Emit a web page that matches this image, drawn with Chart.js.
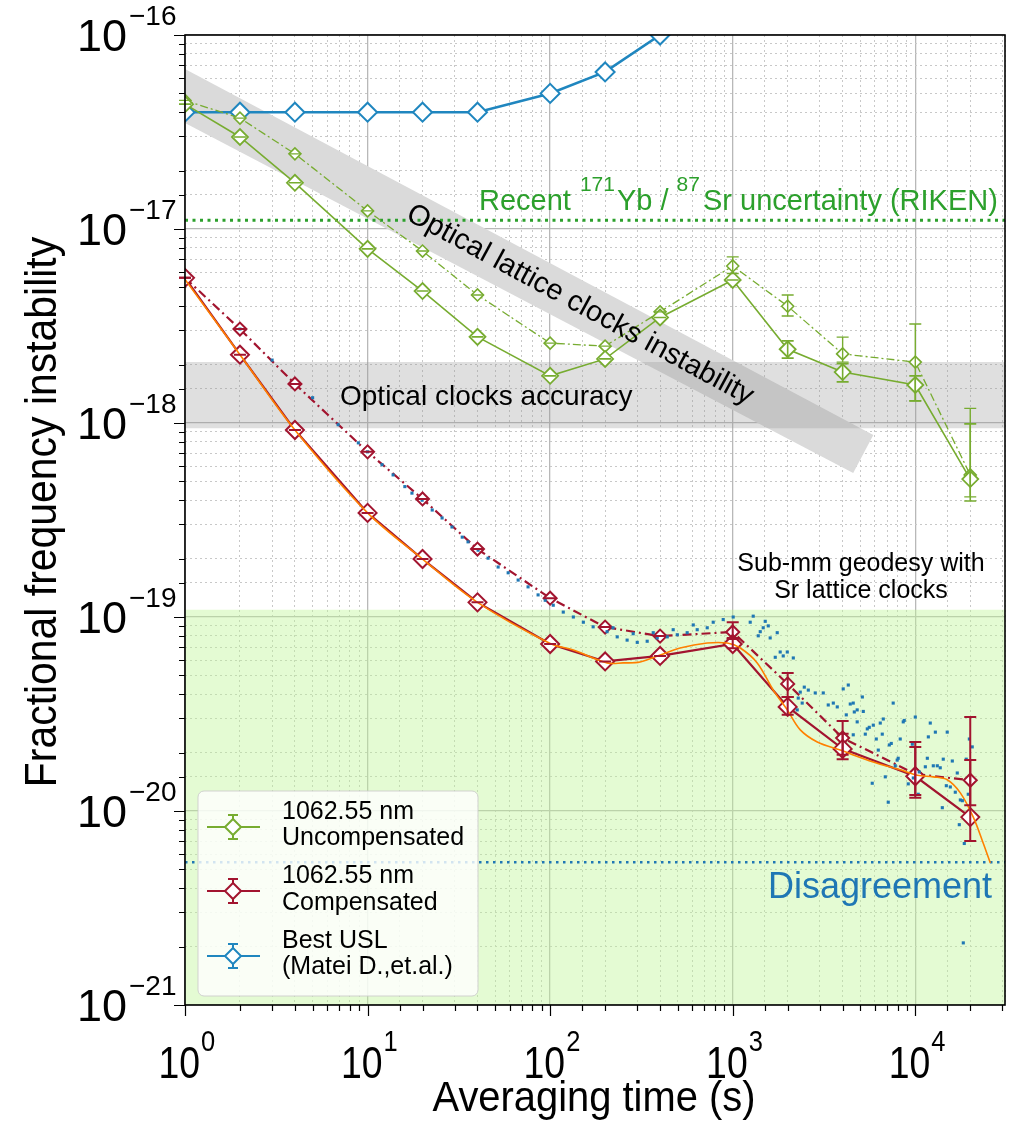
<!DOCTYPE html>
<html>
<head>
<meta charset="utf-8">
<script src="https://cdn.jsdelivr.net/npm/chart.js@4.4.1/dist/chart.umd.min.js"></script>
<style>
  html, body { margin: 0; padding: 0; background: #fff; }
  canvas { display: block; }
</style>
</head>
<body>
<canvas id="adev" width="1017" height="1121"></canvas>
<script>
// averaging times of the measured points
const taus = [1, 2, 4, 10, 20, 40, 100, 200, 400, 1000, 2000, 4000, 10000, 20000];

// 1062.55 nm uncompensated (solid and dash-dot)
const uncompA = [4.4e-17, 2.98e-17, 1.73e-17, 7.9e-18, 4.79e-18, 2.78e-18, 1.75e-18, 2.14e-18, 3.5e-18, 5.46e-18, 2.4e-18, 1.83e-18, 1.57e-18, 5.14e-19];
const uncompAHi = [null, null, null, null, null, null, null, null, null, null, 2.65e-18, 2.02e-18, 1.75e-18, 9.9e-19];
const uncompALo = [null, null, null, null, null, null, null, null, null, null, 2.16e-18, 1.63e-18, 1.3e-18, 3.96e-19];
const uncompB = [4.6e-17, 3.73e-17, 2.44e-17, 1.24e-17, 7.7e-18, 4.57e-18, 2.58e-18, 2.49e-18, 3.74e-18, 6.45e-18, 4.0e-18, 2.27e-18, 2.06e-18, 5.4e-19];
const uncompBHi = [null, null, null, null, null, null, null, null, null, 7.18e-18, 4.57e-18, 2.77e-18, 3.24e-18, 1.19e-18];
const uncompBLo = [null, null, null, null, null, null, null, null, null, 5.9e-18, 3.56e-18, 2.06e-18, 1.3e-18, 4.16e-19];

// 1062.55 nm compensated (solid and dash-dot)
const compA = [5.6e-18, 2.25e-18, 9.2e-19, 3.44e-19, 1.99e-19, 1.19e-19, 7.26e-20, 5.9e-20, 6.3e-20, 7.26e-20, 3.44e-20, 2.09e-20, 1.51e-20, 9.3e-21];
const compAHi = [null, null, null, null, null, null, null, null, null, 7.7e-20, 3.87e-20, 2.5e-20, 2.14e-20, 1.83e-20];
const compALo = [null, null, null, null, null, null, null, null, null, 6.9e-20, 3.13e-20, 1.85e-20, 1.17e-20, 7.0e-21];
const compB = [5.6e-18, 3.05e-18, 1.59e-18, 7.1e-19, 4.06e-19, 2.24e-19, 1.25e-19, 8.87e-20, 7.97e-20, 8.37e-20, 4.52e-20, 2.38e-20, 1.55e-20, 1.44e-20];
const compBHi = [null, null, null, null, null, null, null, null, null, 9.4e-20, 5.15e-20, 2.91e-20, 2.27e-20, 3.05e-20];
const compBLo = [null, null, null, null, null, null, null, null, null, 7.8e-20, 3.87e-20, 1.95e-20, 1.21e-20, 1.07e-20];

// best USL (Matei D. et al.)
const uslTaus = [1, 2, 4, 10, 20, 40, 100, 200, 400, 1000];
const uslValues = [4e-17, 4e-17, 4e-17, 4e-17, 4e-17, 4e-17, 5.0e-17, 6.45e-17, 1.0e-16, 2.1e-16];

// raw USL-compensated scatter
const scatterTaus = [
  2, 3.0, 5.0, 6.9, 8.9, 10, 12.0, 13.8, 16.0, 17.5, 19.9, 22.6, 25.6, 29.0, 33.0, 35.5, 40.3, 45.7, 51.9, 58.9,
  66.8, 75.7, 85.9, 94.0, 104, 118, 134, 152, 172, 205, 233, 264, 300, 340, 386, 438, 497, 563, 639, 725,
  221, 285, 367, 472, 608, 782, 887, 1006,
  1295, 1247, 1507, 1566, 1415, 1380, 1469, 1604, 1753, 1820, 1710, 1891, 1990, 2147, 2344, 2466, 2594, 2832, 3133, 3336,
  3556, 3738, 4029, 4295, 4573, 4806, 2285, 2402, 2256, 4404, 4634, 5129, 5190, 4188, 4806, 4573, 5323, 5458, 5597, 5888,
  6113, 6429, 6594, 6679, 6270, 7208, 7386, 7568, 7959, 8061, 8270, 8590, 8700, 6850, 7770, 5810, 7110, 9150, 9630, 10000,
  9750, 10380, 10510, 11350, 11640, 11790, 12080, 12550, 12880, 13200, 13700, 14060, 14230, 14790, 14960, 15550, 15950, 16560, 16980, 17650,
  18110, 19010, 19500, 19770, 20510, 17420, 18550, 18320
];
const scatterValues = [
  3.05e-18, 2.11e-18, 1.35e-18, 9.8e-19, 7.9e-19, 7.1e-19, 6.1e-19, 5.4e-19, 4.7e-19, 4.35e-19, 4.0e-19, 3.56e-19, 3.24e-19, 2.91e-19, 2.58e-19, 2.44e-19, 2.21e-19, 2.01e-19, 1.81e-19, 1.69e-19,
  1.55e-19, 1.43e-19, 1.30e-19, 1.22e-19, 1.15e-19, 1.06e-19, 1.0e-19, 9.4e-20, 8.9e-20, 8.4e-20, 7.9e-20, 7.6e-20, 7.4e-20, 7.5e-20, 7.8e-20, 7.9e-20, 8.1e-20, 8.3e-20, 8.6e-20, 8.8e-20,
  8.8e-20, 8.2e-20, 8.3e-20, 8.6e-20, 9.1e-20, 9.4e-20, 9.7e-20, 1.0e-19,
  1.01e-19, 9.4e-20, 9.5e-20, 9.0e-20, 8.4e-20, 8.0e-20, 8.8e-20, 7.8e-20, 8.3e-20, 6.6e-20, 6.2e-20, 6.3e-20, 6.6e-20, 6.15e-20, 4.1e-20, 4.35e-20, 4.2e-20, 4.06e-20, 4.06e-20, 3.52e-20,
  3.6e-20, 3.44e-20, 4.26e-20, 4.46e-20, 3.6e-20, 3.32e-20, 3.82e-20, 3.6e-20, 3.32e-20, 3.56e-20, 3.24e-20, 3.87e-20, 3.26e-20, 3.13e-20, 2.88e-20, 2.47e-20, 2.49e-20, 2.65e-20, 2.70e-20, 2.77e-20,
  2.35e-20, 2.84e-20, 2.49e-20, 2.98e-20, 2.06e-20, 2.19e-20, 2.23e-20, 3.6e-20, 1.83e-20, 1.87e-20, 2.35e-20, 2.88e-20, 2.93e-20, 1.50e-20, 1.71e-20, 1.39e-20, 1.11e-20, 1.38e-20, 2.21e-20, 3.05e-20,
  1.48e-20, 1.22e-20, 1.59e-20, 1.69e-20, 1.87e-20, 2.41e-20, 2.84e-20, 1.71e-20, 2.55e-20, 1.71e-20, 1.67e-20, 1.04e-20, 1.85e-20, 1.35e-20, 2.55e-20, 1.33e-20, 1.81e-20, 1.25e-20, 1.57e-20, 1.14e-20,
  1.13e-20, 1.85e-20, 1.22e-20, 2.35e-20, 2.14e-20, 8.5e-21, 6.8e-21, 2.09e-21
];

// smooth fit (orange)
const fitTaus = [1, 2, 4, 10, 20, 40, 100, 134, 205, 251, 311, 401, 515, 725, 933, 1100, 1362, 1667, 1990, 2344, 2904, 3882, 5888, 8270, 10260, 12550, 14960, 17650, 20780, 23590, 25750];
const fitValues = [5.5e-18, 2.25e-18, 9.2e-19, 3.44e-19, 1.99e-19, 1.19e-19, 7.3e-20, 6.76e-20, 5.8e-20, 5.8e-20, 5.86e-20, 6.37e-20, 6.92e-20, 7.34e-20, 7.34e-20, 6.92e-20, 5.8e-20, 4.2e-20, 3.32e-20, 2.62e-20, 2.27e-20, 2.06e-20, 1.79e-20, 1.63e-20, 1.53e-20, 1.50e-20, 1.45e-20, 1.24e-20, 9.3e-21, 6.8e-21, 5.4e-21];

// reference levels and bands
const xRange = [1, 31000];
const yRange = [1e-21, 1e-16];
const rikenLevel = 1.11e-17;
const disagreementLevel = 5.45e-21;
const geodesyLevel = 1.09e-19;
const accuracyBand = [9.4e-19, 2.06e-18];
const latticeBandTaus = [1, 5890, 4570, 1];
const latticeBandValues = [6.68e-17, 8.67e-19, 5.52e-19, 3.52e-17];

// tick labels
const xDecades = [1, 10, 100, 1000, 10000];
const xExponents = ['0', '1', '2', '3', '4'];
const yDecades = [1e-16, 1e-17, 1e-18, 1e-19, 1e-20, 1e-21];
const yExponents = ['\u221216', '\u221217', '\u221218', '\u221219', '\u221220', '\u221221'];

const GREEN = '#77ac30';
const RED = '#a2142f';
const BLUE = '#1f86bf';
const ORANGE = '#ff8000';
const FONT = '"Liberation Sans", Arial, sans-serif';

const pts = (xs, ys) => xs.map((x, i) => ({ x: x, y: ys[i] }));
const isMajor = (v) => Math.abs(Math.log10(v) - Math.round(Math.log10(v))) < 1e-6;

// error bars, drawn on top of the markers
const errorBars = {
  id: 'errorBars',
  afterDatasetsDraw(chart) {
    const { ctx, scales: { x, y } } = chart;
    chart.data.datasets.forEach((ds) => {
      if (!ds.errHi) return;
      ctx.save();
      ctx.strokeStyle = ds.borderColor;
      ctx.lineWidth = ds.errWidth;
      ds.data.forEach((p, i) => {
        const px = x.getPixelForValue(p.x);
        const top = y.getPixelForValue(ds.errHi[i] ?? p.y);
        const bot = y.getPixelForValue(ds.errLo[i] ?? p.y);
        const c = 6;
        ctx.beginPath();
        ctx.moveTo(px, top); ctx.lineTo(px, bot);
        ctx.moveTo(px - c, top); ctx.lineTo(px + c, top);
        ctx.moveTo(px - c, bot); ctx.lineTo(px + c, bot);
        ctx.stroke();
      });
      ctx.restore();
    });
  }
};

// grey slanted band for lattice clock instability
const latticeBand = {
  id: 'latticeBand',
  beforeDatasetsDraw(chart) {
    const { ctx, chartArea: a, scales: { x, y } } = chart;
    ctx.save();
    ctx.beginPath();
    ctx.rect(a.left, a.top, a.right - a.left, a.bottom - a.top);
    ctx.clip();
    ctx.beginPath();
    latticeBandTaus.forEach((t, i) => {
      const px = x.getPixelForValue(t), py = y.getPixelForValue(latticeBandValues[i]);
      if (i === 0) ctx.moveTo(px, py); else ctx.lineTo(px, py);
    });
    ctx.closePath();
    ctx.fillStyle = '#dadada';
    ctx.fill();
    ctx.restore();
  }
};

// text helper; sx squeezes the glyphs horizontally
function text(ctx, s, x, y, size, color, align, sx) {
  sx = sx || 1;
  ctx.save();
  ctx.translate(x, y);
  ctx.scale(sx, 1);
  ctx.font = size + 'px ' + FONT;
  ctx.fillStyle = color || '#000';
  ctx.textAlign = align || 'left';
  ctx.textBaseline = 'alphabetic';
  ctx.fillText(s, 0, 0);
  const w = ctx.measureText(s).width * sx;
  ctx.restore();
  return w;
}

// frame, ticks, tick labels, titles, annotations, legend
const decorations = {
  id: 'decorations',
  afterDraw(chart) {
    const { ctx, chartArea: a, scales: { x, y } } = chart;
    ctx.save();

    // tick marks outside the frame
    ctx.strokeStyle = '#000';
    ctx.lineWidth = 1.2;
    ctx.beginPath();
    y.ticks.forEach((t) => {
      const py = Math.round(y.getPixelForValue(t.value)) + 0.5;
      const len = isMajor(t.value) ? 11 : 6;
      ctx.moveTo(a.left - len, py); ctx.lineTo(a.left, py);
    });
    x.ticks.forEach((t) => {
      if (t.value > xRange[1] * 0.999) return;
      const px = Math.round(x.getPixelForValue(t.value)) + 0.5;
      const len = isMajor(t.value) ? 11 : 6;
      ctx.moveTo(px, a.bottom); ctx.lineTo(px, a.bottom + len);
    });
    ctx.stroke();

    ctx.lineWidth = 1.6;
    ctx.strokeRect(a.left, a.top, a.right - a.left, a.bottom - a.top);

    // tick labels
    yDecades.forEach((v, i) => {
      const py = y.getPixelForValue(v);
      text(ctx, '10', 127, py + 16, 45, '#000', 'right');
      text(ctx, yExponents[i], 129, py - 10, 28);
    });
    xDecades.forEach((v, i) => {
      const px = x.getPixelForValue(v);
      text(ctx, '10', px + 15, 1078, 44, '#000', 'right', 0.85);
      text(ctx, xExponents[i], px + 16, 1051, 30, '#000', 'left', 0.85);
    });

    // axis titles
    text(ctx, 'Averaging time (s)', 594, 1111, 42, '#000', 'center', 0.95);
    ctx.save();
    ctx.translate(56, 512);
    ctx.rotate(-Math.PI / 2);
    text(ctx, 'Fractional frequency instability', 0, 0, 44, '#000', 'center', 0.93);
    ctx.restore();

    // annotations
    let cx = 479;
    cx += text(ctx, 'Recent ', cx, 210, 29, '#2ca02c');
    cx += text(ctx, '171', cx + 1, 191, 21, '#2ca02c') + 3;
    cx += text(ctx, 'Yb / ', cx, 210, 29, '#2ca02c');
    cx += text(ctx, '87', cx, 191, 21, '#2ca02c') + 3;
    text(ctx, 'Sr uncertainty (RIKEN)', cx, 210, 29, '#2ca02c');

    text(ctx, 'Optical clocks accuracy', 340, 405, 28);
    ctx.save();
    ctx.translate(580, 305);
    ctx.rotate(28.5 * Math.PI / 180);
    ctx.textBaseline = 'middle';
    ctx.font = '29px ' + FONT;
    ctx.fillStyle = '#000';
    ctx.textAlign = 'center';
    ctx.fillText('Optical lattice clocks instability', 0, 0);
    ctx.restore();

    text(ctx, 'Sub-mm geodesy with', 861, 571, 25, '#000', 'center');
    text(ctx, 'Sr lattice clocks', 861, 598, 25, '#000', 'center');
    text(ctx, 'Disagreement', 768, 898, 36, '#1f77b4');

    // legend
    ctx.fillStyle = 'rgba(255,255,255,0.8)';
    ctx.strokeStyle = 'rgba(204,204,204,0.9)';
    ctx.lineWidth = 1;
    ctx.beginPath();
    ctx.roundRect(198, 791, 280, 205, 6);
    ctx.fill();
    ctx.stroke();
    const entries = [
      [GREEN, 827, '1062.55 nm', 'Uncompensated', 819, 845],
      [RED, 891, '1062.55 nm', 'Compensated', 883, 910],
      [BLUE, 956, 'Best USL', '(Matei D.,et.al.)', 948, 974]
    ];
    entries.forEach(([col, ly, l1, l2, b1, b2]) => {
      ctx.strokeStyle = col;
      ctx.lineWidth = 2;
      ctx.beginPath();
      ctx.moveTo(207, ly); ctx.lineTo(260, ly);
      ctx.moveTo(233, ly - 12); ctx.lineTo(233, ly + 12);
      ctx.moveTo(228, ly - 12); ctx.lineTo(238, ly - 12);
      ctx.moveTo(228, ly + 12); ctx.lineTo(238, ly + 12);
      ctx.stroke();
      ctx.beginPath();
      ctx.moveTo(233, ly - 8); ctx.lineTo(241, ly); ctx.lineTo(233, ly + 8); ctx.lineTo(225, ly);
      ctx.closePath();
      ctx.fillStyle = '#fff';
      ctx.fill();
      ctx.stroke();
      text(ctx, l1, 282, b1, 25);
      text(ctx, l2, 282, b2, 25);
    });

    ctx.restore();
  }
};

const flat = (v) => pts(xRange, [v, v]);

new Chart(document.getElementById('adev'), {
  type: 'line',
  data: {
    datasets: [
      {
        label: 'USL compensated raw',
        data: pts(scatterTaus, scatterValues),
        showLine: false,
        pointStyle: 'rect',
        pointRadius: 2.2,
        pointBorderWidth: 0,
        pointBackgroundColor: '#1f77b4',
        order: 0
      },
      {
        label: 'Fit',
        data: pts(fitTaus, fitValues),
        borderColor: ORANGE,
        borderWidth: 1.6,
        pointRadius: 0,
        tension: 0.35,
        order: 1
      },
      {
        label: '1062.55 nm Compensated',
        data: pts(taus, compA),
        errHi: compAHi, errLo: compALo, errWidth: 2,
        borderColor: RED,
        borderWidth: 2.2,
        pointStyle: 'rectRot',
        pointRadius: 9,
        pointBorderWidth: 2,
        pointBackgroundColor: '#fff',
        order: 2
      },
      {
        label: '1062.55 nm Compensated (dash)',
        data: pts(taus, compB),
        errHi: compBHi, errLo: compBLo, errWidth: 2,
        borderColor: RED,
        borderWidth: 2.2,
        borderDash: [9, 4, 2, 4],
        pointStyle: 'rectRot',
        pointRadius: 6.5,
        pointBorderWidth: 2,
        pointBackgroundColor: '#fff',
        order: 3
      },
      {
        label: '1062.55 nm Uncompensated',
        data: pts(taus, uncompA),
        errHi: uncompAHi, errLo: uncompALo, errWidth: 1.6,
        borderColor: GREEN,
        borderWidth: 1.6,
        pointStyle: 'rectRot',
        pointRadius: 8,
        pointBorderWidth: 1.8,
        pointBackgroundColor: '#fff',
        order: 4
      },
      {
        label: '1062.55 nm Uncompensated (dash)',
        data: pts(taus, uncompB),
        errHi: uncompBHi, errLo: uncompBLo, errWidth: 1.4,
        borderColor: GREEN,
        borderWidth: 1.3,
        borderDash: [8, 3, 2, 3],
        pointStyle: 'rectRot',
        pointRadius: 6,
        pointBorderWidth: 1.6,
        pointBackgroundColor: '#fff',
        order: 5
      },
      {
        label: 'Best USL (Matei D.,et.al.)',
        data: pts(uslTaus, uslValues),
        borderColor: BLUE,
        borderWidth: 2.6,
        pointStyle: 'rectRot',
        pointRadius: 9.5,
        pointBorderWidth: 2,
        pointBackgroundColor: '#fff',
        order: 6
      },
      {
        label: 'RIKEN',
        data: flat(rikenLevel),
        borderColor: '#2ca02c',
        borderWidth: 3,
        borderDash: [3, 4.5],
        pointRadius: 0,
        order: 7
      },
      {
        label: 'Disagreement',
        data: flat(disagreementLevel),
        borderColor: '#1f77b4',
        borderWidth: 2.5,
        borderDash: [2.5, 4.5],
        pointRadius: 0,
        order: 8
      },
      {
        label: 'Accuracy',
        data: flat(accuracyBand[1]),
        borderWidth: 0,
        pointRadius: 0,
        fill: { value: accuracyBand[0] },
        backgroundColor: 'rgba(150,150,150,0.3)',
        order: 9
      },
      {
        label: 'Geodesy',
        data: flat(geodesyLevel),
        borderWidth: 0,
        pointRadius: 0,
        fill: 'start',
        backgroundColor: 'rgba(190,245,150,0.42)',
        order: 10
      }
    ]
  },
  options: {
    responsive: false,
    animation: false,
    devicePixelRatio: 1,
    events: [],
    layout: { padding: { left: 185, top: 35, right: 12, bottom: 116 } },
    plugins: { legend: { display: false }, tooltip: { enabled: false } },
    scales: {
      x: {
        type: 'logarithmic',
        min: xRange[0],
        max: xRange[1],
        afterFit: (s) => { s.height = 0; },
        ticks: { display: false, autoSkip: false },
        grid: {
          drawTicks: false,
          color: (c) => (c.tick && isMajor(c.tick.value) ? '#b8b8b8' : '#c8c8c8'),
          lineWidth: (c) => (c.tick && isMajor(c.tick.value) ? 1.3 : 1)
        },
        border: { display: false, dash: (c) => (c.tick && isMajor(c.tick.value) ? [] : [2, 3]) }
      },
      y: {
        type: 'logarithmic',
        min: yRange[0],
        max: yRange[1],
        afterFit: (s) => { s.width = 0; },
        ticks: { display: false, autoSkip: false },
        grid: {
          drawTicks: false,
          color: (c) => (c.tick && isMajor(c.tick.value) ? '#b8b8b8' : '#c8c8c8'),
          lineWidth: (c) => (c.tick && isMajor(c.tick.value) ? 1.3 : 1)
        },
        border: { display: false, dash: (c) => (c.tick && isMajor(c.tick.value) ? [] : [2, 3]) }
      }
    }
  },
  plugins: [latticeBand, errorBars, decorations]
});
</script>
</body>
</html>
